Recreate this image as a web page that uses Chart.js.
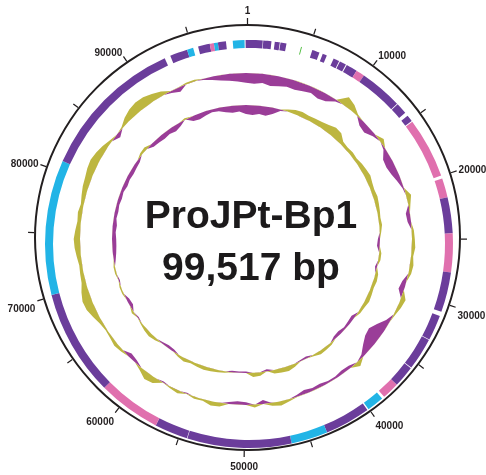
<!DOCTYPE html>
<html>
<head>
<meta charset="utf-8">
<script src="https://cdn.jsdelivr.net/npm/chart.js@4.4.1/dist/chart.umd.min.js"></script>
<style>
    body { margin: 0; background: #fff; }
    #wrap { position: relative; width: 486px; height: 475px; overflow: hidden; }
    .layer { position: absolute; }
    #gcBox { left: 46px; top: 39px; width: 400px; height: 400px; }
    #featBox, #ringBox { left: 0; top: 0; width: 486px; height: 475px; }
    #name {
        position: absolute; left: 8px; top: 189px; width: 486px;
        text-align: center; font: bold 39px/52px "Liberation Sans", Arial, sans-serif;
        color: #1c1a1b;
    }
</style>
</head>
<body>
<div id="wrap">
    <div class="layer" id="gcBox"><canvas id="gcChart" width="400" height="400"></canvas></div>
    <div class="layer" id="featBox"><canvas id="featChart" width="486" height="475"></canvas></div>
    <div class="layer" id="ringBox"><canvas id="ringChart" width="486" height="475"></canvas></div>
    <div id="name">ProJPt-Bp1<br>99,517 bp</div>
</div>
<script>
// данные генома
const genomeLength = 99517;

// деления шкалы
const tickPositions = [0, 5000, 10000, 15000, 20000, 25000, 30000, 35000, 40000, 45000,
    50000, 55000, 60000, 65000, 70000, 75000, 80000, 85000, 90000, 95000];
const tickLabels = ['1', '', '10000', '', '20000', '', '30000', '', '40000', '',
    '50000', '', '60000', '', '70000', '', '80000', '', '90000', ''];

// гены (начало, конец, тип)
const featureStarts = [0, 1110, 2010, 2460, 4090, 5000, 5860, 6780, 7320, 7920,
    8800, 9480, 12930, 14100, 14700, 19700, 21210, 24050, 27100, 30600,
    32650, 35250, 36930, 38500, 39950, 43540, 46420, 54660, 57280, 62250,
    70630, 81270, 93240, 94630, 95520, 96450, 96770, 97085, 98250, 99250];
const featureEnds = [1070, 1750, 2405, 2930, 4160, 5590, 6200, 7250, 7840, 8800,
    9480, 12860, 13820, 14620, 19460, 21210, 24050, 27100, 30250, 32590,
    35190, 36930, 38290, 39840, 43540, 46420, 54620, 57280, 62250, 70630,
    81270, 92770, 94630, 95120, 96450, 96770, 97085, 97720, 99170, 99517];
const featureTypes = ['v', 'v', 'v', 'v', 'g', 'v', 'v', 'v', 'v', 'v',
    'p', 'v', 'v', 'v', 'p', 'p', 'v', 'p', 'v', 'v',
    'v', 'v', 'p', 'b', 'v', 'b', 'v', 'v', 'p', 'v',
    'b', 'v', 'v', 'b', 'v', 'p', 'b', 'v', 'b', 'v'];

// GC-состав и GC-skew, окна по 3 градуса (отклонение от средней линии)
const gcContent = [-14, -15, -13, -16, -14, -12, -13, -11, -9, -12,
    -10, -3, 13, 9, 2, -8, -10, -4, 6, -3,
    -11, -12, -10, -6, -2, 7, 3, -6, -5, 3,
    4, 5, 3, 5, 4, -6, -8, 7, 5, 2,
    -6, -14, -20, -18, -12, -4, 7, -4, -5, -3,
    -3, -5, -4, -6, -3, 3, 6, 4, -6, 4,
    -4, -5, -3, 5, 6, 2, 3, -2, 4, 2,
    -2, 8, 10, 4, -4, -6, 3, 5, 3, 2,
    4, 8, 12, 13, 10, 6, 5, 4, 6, 8,
    9, 7, 5, 6, 4, 6, 8, 9, 11, 12,
    10, 7, 3, -6, 2, 8, 12, 14, 13, 10,
    6, -3, -7, 2, 2, -2, -5, -8, -10, -12];
const gcSkew = [-13, -14, -12, -13, -9, -2, 3, 6, 7, 6,
    7, 8, 10, 13, 12, 5, 4, 5, 4, 6,
    7, 8, 6, 5, 6, 5, 4, 3, 4, 2,
    -3, -4, 3, 3, -3, 4, 5, 4, 5, 6,
    4, 3, -5, -4, -3, -5, -4, 3, 4, 5,
    2, -3, -2, 4, 7, 6, 5, -3, 5, 6,
    -2, -2, -2, 2, 3, 4, 5, 4, 3, 5,
    3, -3, -4, -2, 3, 5, 4, 2, -2, 3,
    -5, -4, 2, 2, -2, 2, 2, -3, -5, -6,
    -6, -5, -6, -4, -5, -4, -5, -4, -6, -5,
    -6, -5, -4, 3, 4, -5, -6, -7, -6, -8,
    -5, 2, -7, -8, -6, -4, -5, -8, -10, -9];

// цвета
const typeColors = { v: '#6b3d9b', p: '#e070ae', b: '#22b4e6', g: '#4cbc3c' };
const gcHigh = '#bdb640';
const gcLow = '#9a3d98';

// радиусы колец и масштаб отклонений (пиксели шкалы)
const contentBase = 166;
const skewBase = 134;
const devScale = 0.7;

Chart.defaults.font.family = '"Liberation Sans", Arial, sans-serif';

// ---------- кольца GC ----------
const windowLabels = gcContent.map((v, i) => Math.round(i * genomeLength / gcContent.length));

function ringSet(values, base, positive) {
    return {
        data: values.map(v => base + devScale * (positive ? Math.max(v, 0) : Math.min(v, 0))),
        backgroundColor: positive ? gcHigh : gcLow,
        borderColor: 'rgba(0,0,0,0)',
        borderWidth: 0,
        pointRadius: 0,
        fill: { value: base }
    };
}

new Chart(document.getElementById('gcChart'), {
    type: 'radar',
    data: {
        labels: windowLabels,
        datasets: [
            ringSet(gcContent, contentBase, true),
            ringSet(gcContent, contentBase, false),
            ringSet(gcSkew, skewBase, true),
            ringSet(gcSkew, skewBase, false)
        ]
    },
    options: {
        responsive: false,
        animation: false,
        events: [],
        elements: { line: { tension: 0 } },
        plugins: { legend: { display: false }, tooltip: { enabled: false } },
        scales: {
            r: {
                min: 0,
                max: 200,
                grid: { display: false, circular: true },
                angleLines: { display: false },
                ticks: { display: false },
                pointLabels: { display: false }
            }
        }
    }
});

// ---------- кольцо генов ----------
let featureSlices = [];
let featureColors = [];
let cursor = 0;
featureStarts.forEach((start, i) => {
    if (start > cursor) {
        featureSlices.push(start - cursor);
        featureColors.push('rgba(0,0,0,0)');
    }
    featureSlices.push(featureEnds[i] - start);
    featureColors.push(typeColors[featureTypes[i]]);
    cursor = featureEnds[i];
});
if (cursor < genomeLength) {
    featureSlices.push(genomeLength - cursor);
    featureColors.push('rgba(0,0,0,0)');
}

new Chart(document.getElementById('featChart'), {
    type: 'doughnut',
    data: {
        datasets: [{
            data: featureSlices,
            backgroundColor: featureColors,
            borderWidth: 0,
            hoverBorderWidth: 0
        }]
    },
    options: {
        responsive: false,
        animation: false,
        events: [],
        cutout: 196,
        layout: { padding: { left: 45, right: 33, top: 40, bottom: 27 } },
        plugins: { legend: { display: false }, tooltip: { enabled: false } }
    }
});

// ---------- внешняя окружность и шкала ----------
const tickWidth = 90;
let tickSlices = [];
let tickColors = [];
let tickSliceLabels = [];
tickPositions.forEach((pos, i) => {
    let next = i + 1 < tickPositions.length ? tickPositions[i + 1] : genomeLength;
    tickSlices.push(tickWidth);
    tickColors.push('#231f20');
    tickSliceLabels.push(tickLabels[i]);
    tickSlices.push(next - pos - tickWidth);
    tickColors.push('rgba(0,0,0,0)');
    tickSliceLabels.push('');
});

// подписи к делениям
const tickLabelPlugin = {
    id: 'tickLabelPlugin',
    afterDatasetsDraw(chart) {
        const ctx = chart.ctx;
        const meta = chart.getDatasetMeta(0);
        ctx.save();
        ctx.font = 'bold 10px "Liberation Sans", Arial, sans-serif';
        ctx.fillStyle = '#231f20';
        meta.data.forEach((arc, i) => {
            const label = tickSliceLabels[i];
            if (!label) return;
            const a = (arc.startAngle + arc.endAngle) / 2;
            const r = arc.outerRadius + 2;
            const cx = Math.cos(a);
            const sy = Math.sin(a);
            let shift = 0;
            ctx.textAlign = cx > 0.3 ? 'left' : (cx < -0.3 ? 'right' : 'center');
            if (sy < -0.7) {
                ctx.textBaseline = 'bottom';
                if (Math.abs(cx) > 0.3) shift = 3;
            } else if (sy > 0.2) {
                ctx.textBaseline = 'top';
                shift = 3;
            } else {
                ctx.textBaseline = 'middle';
            }
            ctx.fillText(label, arc.x + cx * r, arc.y + sy * r + shift);
        });
        ctx.restore();
    }
};

new Chart(document.getElementById('ringChart'), {
    type: 'doughnut',
    data: {
        datasets: [
            { data: tickSlices, backgroundColor: tickColors, borderWidth: 0, hoverBorderWidth: 0, weight: 6 },
            { data: [genomeLength], backgroundColor: ['#231f20'], borderWidth: 0, hoverBorderWidth: 0, weight: 2 }
        ]
    },
    options: {
        responsive: false,
        animation: false,
        events: [],
        cutout: 211.5,
        rotation: -tickWidth / 2 / genomeLength * 360,
        layout: { padding: { left: 28, right: 19, top: 18, bottom: 18 } },
        plugins: { legend: { display: false }, tooltip: { enabled: false } }
    },
    plugins: [tickLabelPlugin]
});
</script>
</body>
</html>
